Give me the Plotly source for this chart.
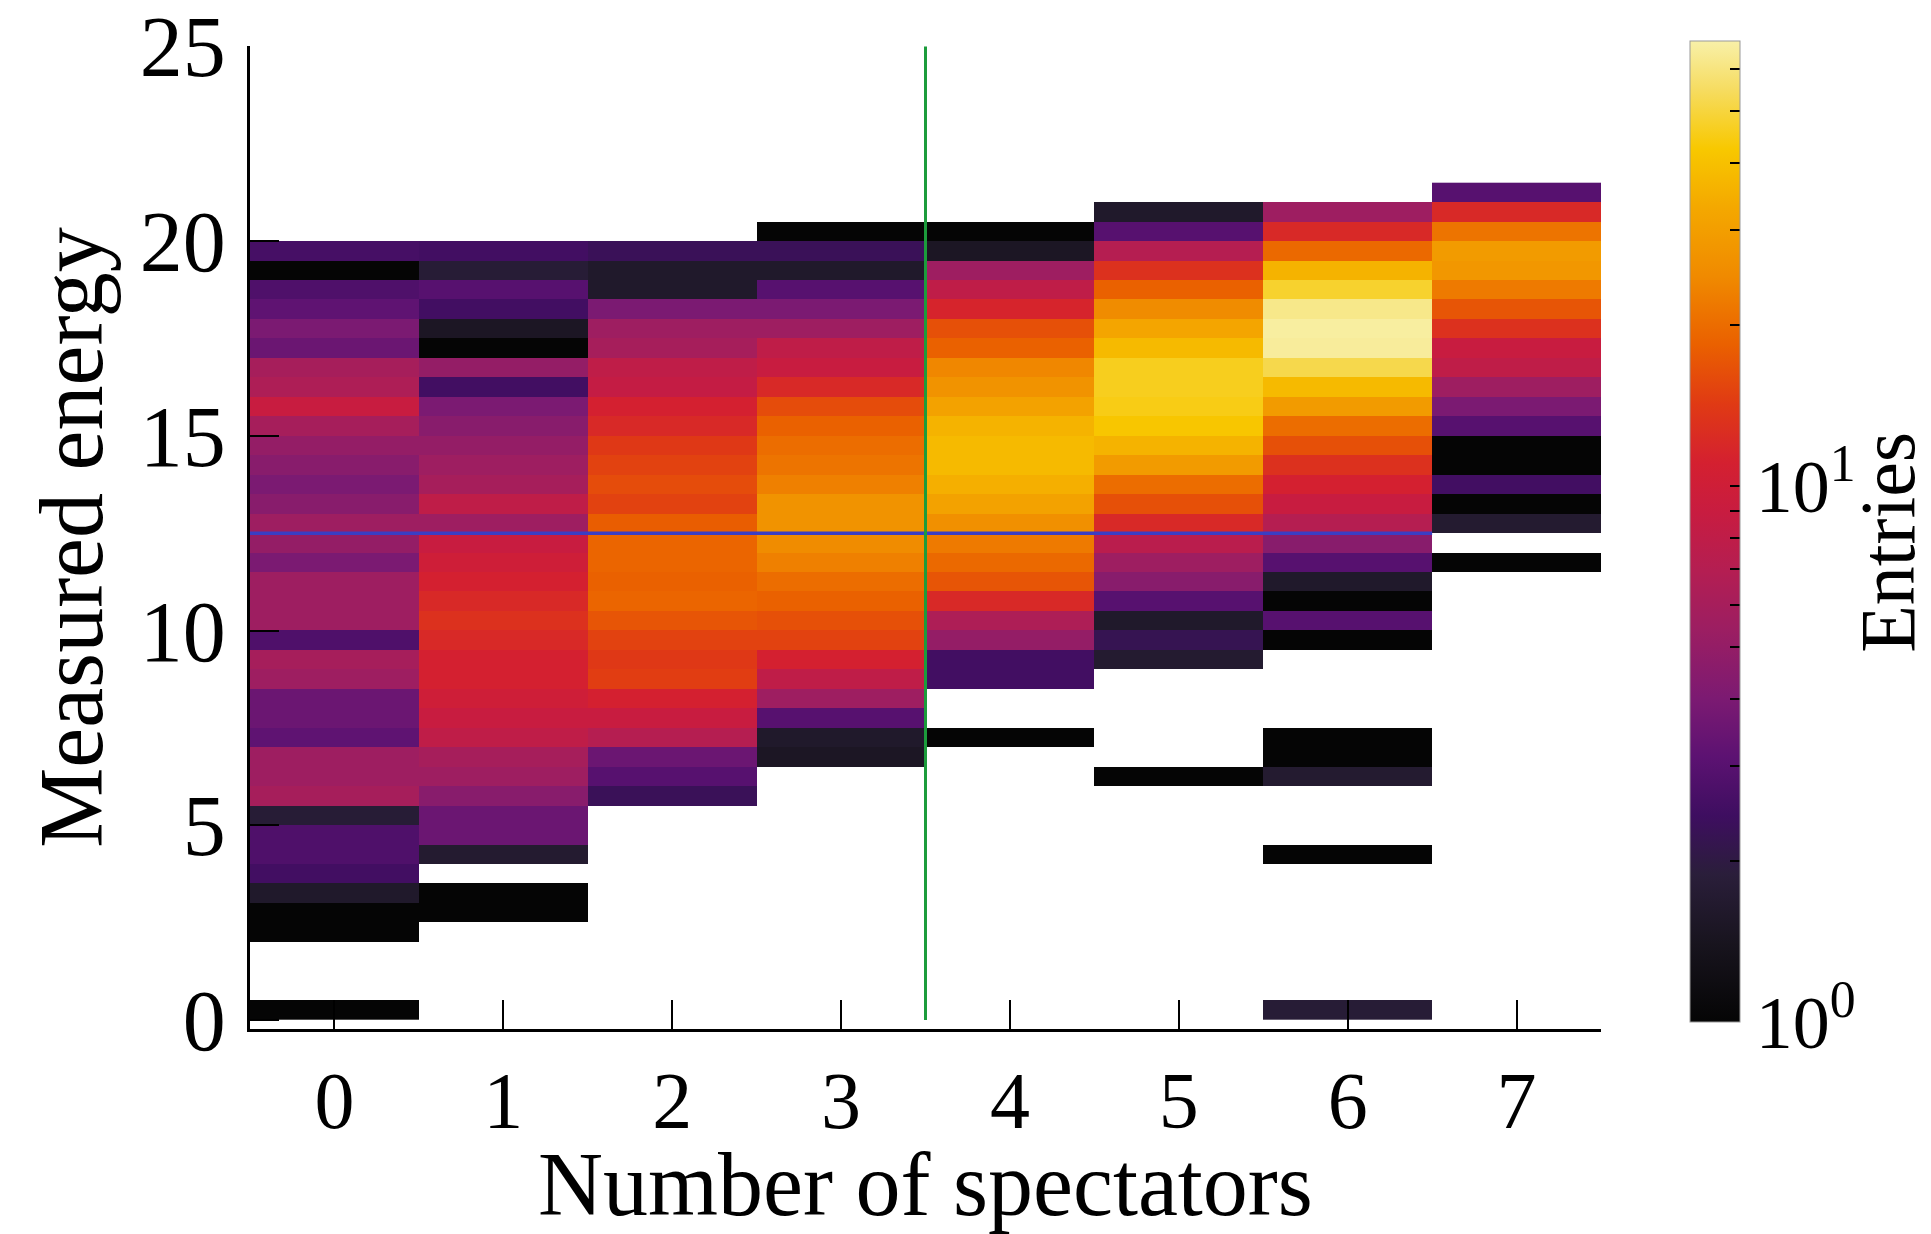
import numpy as np
import plotly.graph_objects as go

# Number of spectators (x categories)
spectators = [0, 1, 2, 3, 4, 5, 6, 7]

# Measured-energy binning: 43 bins of width 0.5 starting at 0
energy_bin_width = 0.5
energy_low_edge = 0.0
n_energy_bins = 43

# Entries per energy bin, listed from the lowest bin upward (0 = empty bin)
entries_n0 = [1, 0, 0, 0, 1, 1, 1.6, 2.5, 2.8, 2.8,
              1.8, 6, 5.5, 5.5, 3.2, 3.5, 3.5, 5.5, 6, 2.8,
              5.5, 5.5, 5.5, 4, 5, 5.5, 4.5, 4, 4.5, 5,
              6, 9, 6.5, 6, 3.5, 4, 3.2, 2.8, 1, 2.6,
              0, 0, 0]
entries_n1 = [0, 0, 0, 0, 0, 1, 1, 0, 1.7, 3.5,
              3.5, 4.5, 5.5, 6, 8, 9, 10, 11, 11, 12,
              13, 12, 11, 10, 9, 5.5, 8, 6, 5.5, 5,
              4.5, 4, 2.5, 5, 1, 1.5, 2.5, 3, 1.8, 2.5,
              0, 0, 0]
entries_n2 = [0, 0, 0, 0, 0, 0, 0, 0, 0, 0,
              0, 2.3, 3, 3.5, 7, 9, 11, 14.5, 14, 15,
              17, 19, 18.5, 19, 19, 18, 15, 16, 15, 14,
              12, 11, 8.5, 8, 6, 5.5, 4, 1.6, 1.6, 2.3,
              0, 0, 0]
entries_n3 = [0, 0, 0, 0, 0, 0, 0, 0, 0, 0,
              0, 0, 0, 1.5, 1.6, 3, 5.5, 8, 11, 15,
              16.5, 18.5, 20, 23, 25, 27, 27, 23, 21, 20,
              18.5, 16, 12, 9, 8, 5.5, 4, 3, 1.6, 2.3,
              1, 0, 0]
entries_n4 = [0, 0, 0, 0, 0, 0, 0, 0, 0, 0,
              0, 0, 0, 0, 1, 0, 0, 2.5, 2.5, 5,
              6.5, 12, 17, 19.5, 22, 26, 31, 35, 38, 38,
              36, 31, 27, 24, 18.5, 16.5, 11.5, 8, 5.5, 1.5,
              1, 0, 0]
entries_n5 = [0, 0, 0, 0, 0, 0, 0, 0, 0, 0,
              0, 0, 1, 0, 0, 0, 0, 0, 1.7, 2.2,
              1.6, 3, 4.5, 5.5, 7.5, 12, 16.5, 20, 29, 36,
              42, 45, 46, 46, 38, 32, 25, 18.5, 13, 7,
              3, 1.6, 0]
entries_n6 = [1.8, 0, 0, 0, 0, 0, 0, 0, 1, 0,
              0, 0, 1.7, 1, 1, 0, 0, 0, 0, 1,
              3, 1, 1.6, 3, 4.5, 7, 9, 11, 13, 16.5,
              20, 29, 38, 52, 65, 66, 62, 48, 36, 19.5,
              12, 5.5, 0]
entries_n7 = [0, 0, 0, 0, 0, 0, 0, 0, 0, 0,
              0, 0, 0, 0, 0, 0, 0, 0, 0, 0,
              0, 0, 0, 1, 0, 1.7, 1, 2.5, 1, 1,
              3, 4, 5.5, 8, 9, 13, 17, 22, 28, 29,
              21, 12, 3]

# Reference lines
energy_line = 12.5
spectator_cut = 3.5

# Colour range (log10 of entries)
log_entries_max = 1.83

columns = [entries_n0, entries_n1, entries_n2, entries_n3,
           entries_n4, entries_n5, entries_n6, entries_n7]
counts = np.array(columns, dtype=float).T  # rows = energy bins, cols = spectators
z = np.where(counts > 0, np.log10(np.where(counts > 0, counts, 1)), np.nan)

energy_centers = energy_low_edge + energy_bin_width * (np.arange(n_energy_bins) + 0.5)

fire_scale = [
    [0.00, "#050505"],
    [0.08, "#18141e"],
    [0.15, "#2a1e3a"],
    [0.21, "#3e0e60"],
    [0.27, "#5c1272"],
    [0.33, "#7c1a72"],
    [0.40, "#9c1e62"],
    [0.46, "#b41e52"],
    [0.52, "#c81c40"],
    [0.57, "#d42030"],
    [0.63, "#e03a14"],
    [0.69, "#ea6000"],
    [0.76, "#f08a00"],
    [0.83, "#f4a800"],
    [0.89, "#f8c800"],
    [0.95, "#f6dc60"],
    [1.00, "#f8f0a8"],
]

# colour-bar ticks: decades labelled, intermediate values as unlabelled marks
cb_vals = [0.0] + [float(np.log10(k)) for k in range(2, 10)] + [1.0] + \
          [float(np.log10(k)) for k in range(20, 70, 10)]
cb_text = ["10<sup>0</sup>"] + [""] * 8 + ["10<sup>1</sup>"] + [""] * 5

font_family = "Liberation Serif, Times New Roman, serif"

fig = go.Figure()
fig.add_trace(go.Heatmap(
    x=spectators,
    y=energy_centers,
    z=z,
    zmin=0,
    zmax=log_entries_max,
    colorscale=fire_scale,
    zsmooth=False,
    hoverongaps=False,
    customdata=counts,
    hovertemplate="spectators %{x}<br>energy %{y}<br>entries %{customdata}<extra></extra>",
    colorbar=dict(
        tickvals=cb_vals,
        ticktext=cb_text,
        ticks="inside",
        ticklen=10,
        tickwidth=2,
        tickcolor="black",
        tickfont=dict(size=74, family=font_family, color="black"),
        thickness=50,
        lenmode="pixels",
        len=981,
        x=1.066,
        xanchor="left",
        y=0.506,
        yanchor="middle",
        xpad=0,
        ypad=0,
        outlinewidth=1,
        outlinecolor="#999999",
    ),
))

# colour-bar title, written vertically to the right of the tick labels
fig.add_annotation(
    text="Entries", textangle=-90,
    xref="paper", yref="paper", x=1.212, y=0.495,
    xanchor="center", yanchor="middle", showarrow=False,
    font=dict(size=78, family=font_family, color="black"),
)

# horizontal energy reference and vertical spectator cut
fig.add_shape(type="line", x0=-0.5, x1=6.5, y0=energy_line, y1=energy_line,
              xref="x", yref="y", line=dict(color="#3a3ec4", width=3.5), layer="above")
fig.add_shape(type="line", x0=spectator_cut, x1=spectator_cut, y0=0, y1=25,
              xref="x", yref="y", line=dict(color="#1c9c3c", width=3), layer="above")

fig.update_xaxes(
    range=[-0.5, 7.5],
    tickvals=spectators,
    ticks="inside",
    ticklen=29,
    tickwidth=2,
    tickcolor="black",
    showline=True,
    linecolor="black",
    linewidth=3,
    showgrid=False,
    zeroline=False,
    automargin=False,
    ticklabelstandoff=0,
    ticklabeloverflow="allow",
    tickfont=dict(size=80, family=font_family, color="black"),
    title=dict(text="Number of spectators", font=dict(size=90, family=font_family, color="black"), standoff=42),
)
fig.update_yaxes(
    range=[-0.23, 25.01],
    tickvals=[0, 5, 10, 15, 20, 25],
    ticks="inside",
    ticklen=29,
    tickwidth=2,
    tickcolor="black",
    showline=True,
    linecolor="black",
    linewidth=3,
    showgrid=False,
    zeroline=False,
    automargin=False,
    ticklabelstandoff=4,
    ticklabeloverflow="allow",
    tickfont=dict(size=86, family=font_family, color="black"),
    title=dict(text="Measured energy", font=dict(size=90, family=font_family, color="black"), standoff=8),
)

fig.update_layout(
    width=1931,
    height=1234,
    margin=dict(l=250, r=330, t=46, b=205, autoexpand=False),
    plot_bgcolor="white",
    paper_bgcolor="white",
    font=dict(family=font_family, color="black"),
)

fig.write_html("out.html")
